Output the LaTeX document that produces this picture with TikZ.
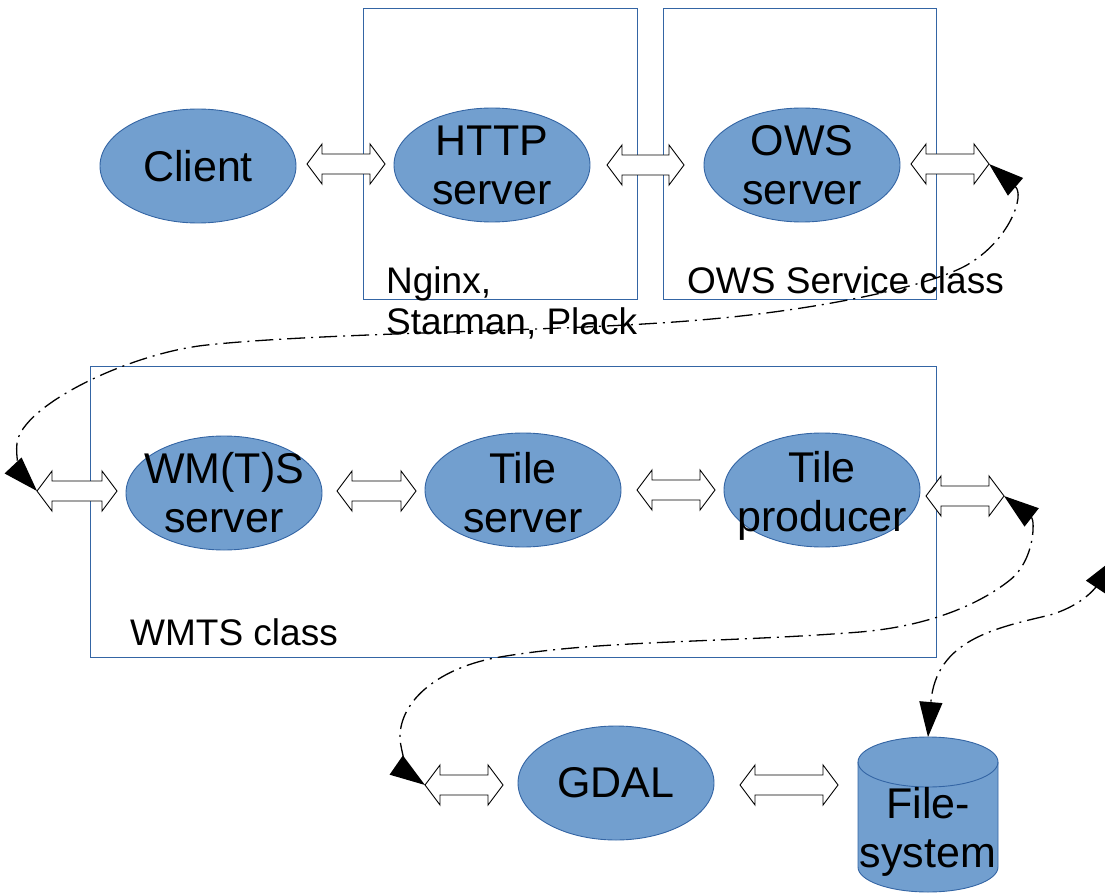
\documentclass[tikz,border=0pt]{standalone}
\usepackage{fontspec}
\setmainfont{Liberation Sans}
\usetikzlibrary{shapes.geometric,arrows.meta,calc}
\definecolor{blobfill}{HTML}{729FCF}
\definecolor{blobline}{HTML}{3465A4}

% hollow two-headed block arrow between two named end points
\newcommand\blockarrow[2]{%
  \draw[blockarr] let \p1=(#1), \p2=(#2) in
    (\x1,\y1) -- (\x1+15pt,\y1+20pt) -- (\x1+15pt,\y1+10pt)
    -- (\x2-15pt,\y1+10pt) -- (\x2-15pt,\y1+20pt) -- (\x2,\y1)
    -- (\x2-15pt,\y1-20pt) -- (\x2-15pt,\y1-10pt)
    -- (\x1+15pt,\y1-10pt) -- (\x1+15pt,\y1-20pt) -- cycle;}

\begin{document}
\begin{tikzpicture}[x=1pt,y=-1pt,
  blob/.style={ellipse,draw=blobline,fill=blobfill,line width=0.9pt,
    minimum width=196pt,minimum height=114pt,inner sep=0pt},
  blobtxt/.style={font=\fontsize{43}{49}\selectfont,align=center,inner sep=0pt},
  zone/.style={draw=blobline,line width=1pt},
  zonelabel/.style={font=\fontsize{37}{41}\selectfont,align=left,inner sep=0pt},
  blockarr/.style={draw=black,fill=white,line width=0.9pt,line join=miter},
  flow/.style={draw=black,line width=1.3pt,
    dash pattern=on 18pt off 6pt on 2pt off 6pt,
    {Triangle[length=35pt,width=23pt]}-{Triangle[length=35pt,width=23pt]}}]

\useasboundingbox (0,0) rectangle (1105,893);
\clip (0,0) rectangle (1105,893);

% grouping frames
\draw[zone] (363,9) rectangle (637,299);
\draw[zone] (663,9) rectangle (936,299);
\draw[zone] (90,366) rectangle (936,657);

% components
\node[blob] (client) at (198,166) {};
\node[blobtxt] (clienttxt) at (client) {Client};
\node[blob] (http) at (492,165) {};
\node[blobtxt] (httptxt) at (http) {HTTP\\server};
\node[blob] (ows) at (802,165) {};
\node[blobtxt] (owstxt) at (ows) {OWS\\server};
\node[blob] (wmts) at (224,493) {};
\node[blobtxt] (wmtstxt) at (wmts) {WM(T)S\\server};
\node[blob] (tile) at (523,490) {};
\node[blobtxt] (tiletxt) at ($(tile)+(0,3)$) {Tile\\server};
\node[blob] (prod) at (822,490) {};
\node[blobtxt] (prodtxt) at ($(prod)+(0,6)$) {Tile\\producer};
\node[blob] (gdal) at (616,783) {};
\node[blobtxt] (gdaltxt) at (gdal) {GDAL};

% file system drum
\path[draw=blobline,fill=blobfill,line width=0.9pt]
  (858,762) -- (858,867)
  arc[start angle=180,end angle=360,x radius=70pt,y radius=25pt]
  -- (998,762)
  arc[start angle=0,end angle=180,x radius=70pt,y radius=25pt] -- cycle;
\draw[blobline,line width=0.9pt] (858,762)
  arc[start angle=180,end angle=360,x radius=70pt,y radius=25pt];
\coordinate (fstop) at (928,737);
\node[blobtxt] (fs) at (928,831.5) {File-\\system};

% frame captions
\node[zonelabel,anchor=north west] (httplbl) at (386,266) {Nginx,\\Starman, Plack};
\node[zonelabel,anchor=base west] (owslbl) at (687,293) {OWS Service class};
\node[zonelabel,anchor=base west] (wmtslbl) at (130,645) {WMTS class};

% block arrow end points
\coordinate (a1w) at (307,164);  \coordinate (a1e) at (385,164);
\coordinate (a2w) at (607,165);  \coordinate (a2e) at (684,165);
\coordinate (a3w) at (911,164);  \coordinate (a3e) at (989,164);
\coordinate (a4w) at (37,491);   \coordinate (a4e) at (117,491);
\coordinate (a5w) at (337,491);  \coordinate (a5e) at (416,491);
\coordinate (a6w) at (637,490);  \coordinate (a6e) at (715,490);
\coordinate (a7w) at (926,496);  \coordinate (a7e) at (1004,496);
\coordinate (a8w) at (425,785);  \coordinate (a8e) at (503,785);
\coordinate (a9w) at (740,785);  \coordinate (a9e) at (838,785);
\coordinate (offpage) at (1115,558);

\blockarrow{a1w}{a1e}
\blockarrow{a2w}{a2e}
\blockarrow{a3w}{a3e}
\blockarrow{a4w}{a4e}
\blockarrow{a5w}{a5e}
\blockarrow{a6w}{a6e}
\blockarrow{a7w}{a7e}
\blockarrow{a8w}{a8e}
\blockarrow{a9w}{a9e}

% hand-over links between the rows
\draw[flow] (a3e) .. controls (1025,195) and (1010,240) .. (967,265)
  .. controls (930,286) and (820,310) .. (700,320)
  .. controls (560,332) and (330,332) .. (207,345)
  .. controls (130,353) and (22,405) .. (17,443)
  .. controls (15,458) and (22,475) .. (a4w);
\draw[flow] (a7e) .. controls (1035,520) and (1035,560) .. (1010,580)
  .. controls (980,604) and (930,626) .. (860,632)
  .. controls (720,643) and (600,640) .. (500,657)
  .. controls (440,667) and (400,700) .. (400,737)
  .. controls (400,752) and (412,776) .. (a8w);
\draw[flow] (offpage) .. controls (1101,579) and (1090,603) .. (1050,615)
  .. controls (995,628) and (936,640) .. (fstop);
\end{tikzpicture}
\end{document}
